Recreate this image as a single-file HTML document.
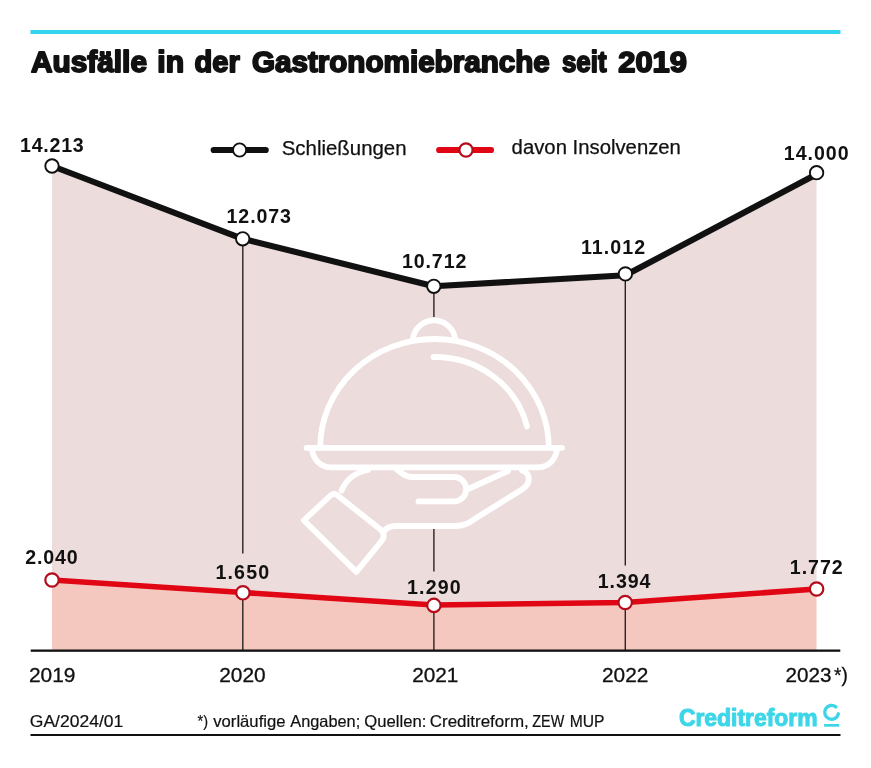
<!DOCTYPE html>
<html lang="de">
<head>
<meta charset="utf-8">
<title>Ausfälle in der Gastronomiebranche seit 2019</title>
<style>
  html, body { margin: 0; padding: 0; background: #ffffff; }
  body { width: 871px; height: 768px; overflow: hidden; }
  svg { display: block; }
  text { font-family: "Liberation Sans", sans-serif; fill: #111111; }
  .title { font-weight: bold; font-size: 29px; stroke: #111111; stroke-width: 1.8px; stroke-linejoin: round; }
  .val { font-weight: bold; font-size: 19.6px; }
  .year { font-size: 20px; stroke: #111111; stroke-width: 0.3px; }
  .leg { font-size: 20px; stroke: #111111; stroke-width: 0.25px; }
  .foot { font-size: 16.5px; stroke: #111111; stroke-width: 0.2px; }
  .logo { font-weight: bold; font-size: 23px; fill: #3dd6e8; stroke: #3dd6e8; stroke-width: 1px; stroke-linejoin: round; }
</style>
</head>
<body>
<svg width="871" height="768" viewBox="0 0 871 768">
  <rect x="0" y="0" width="871" height="768" fill="#ffffff"/>

  <!-- top rule -->
  <rect x="30.5" y="30" width="810" height="4" fill="#33d3ee"/>

  <!-- title -->
  <g class="title">
    <text id="t1" x="30.95" y="71.50" textLength="116.05" lengthAdjust="spacingAndGlyphs">Ausfälle</text>
    <text id="t2" x="157.31" y="71.50" textLength="26.74" lengthAdjust="spacingAndGlyphs">in</text>
    <text id="t3" x="194.60" y="71.50" textLength="45.25" lengthAdjust="spacingAndGlyphs">der</text>
    <text id="t4" x="251.90" y="71.50" textLength="297.95" lengthAdjust="spacingAndGlyphs">Gastronomiebranche</text>
    <text id="t5" x="562.00" y="71.50" textLength="44.50" lengthAdjust="spacingAndGlyphs">seit</text>
    <text id="t6" x="618.30" y="71.50" textLength="68.60" lengthAdjust="spacingAndGlyphs">2019</text>
  </g>

  <!-- areas -->
  <polygon points="52,166 242.7,238.8 433.8,286.3 625.4,275.3 816.5,174.3 816.5,589 625.2,602.5 433.9,605 242.9,592.5 52,580" fill="#ecdcdc"/>
  <polygon points="52,580 242.9,592.5 433.9,605 625.2,602.5 816.5,589 816.5,650 52,650" fill="#f5c8bf"/>

  <!-- vertical guide lines -->
  <g stroke="#2a2223" stroke-width="1.4">
    <line x1="242.8" y1="245" x2="242.8" y2="553.5"/>
    <line x1="242.8" y1="598" x2="242.8" y2="650"/>
    <line x1="433.9" y1="292" x2="433.9" y2="317"/>
    <line x1="433.9" y1="529" x2="433.9" y2="571.5"/>
    <line x1="433.9" y1="610" x2="433.9" y2="650"/>
    <line x1="625.3" y1="280" x2="625.3" y2="565.5"/>
    <line x1="625.3" y1="608" x2="625.3" y2="650"/>
  </g>

  <!-- cloche icon -->
  <g fill="none" stroke="#ffffff" stroke-width="5.8" stroke-linecap="round" stroke-linejoin="round">
    <!-- knob -->
    <path d="M412.9,338.8 A21.3,21.3 0 0 1 455.1,338.8"/>
    <!-- dome -->
    <path d="M320.2,447.8 A114.3,108.9 0 0 1 548.8,447.8"/>
    <!-- highlight -->
    <path d="M433.5,357 A95,89.8 0 0 1 527,426.5"/>
    <!-- tray -->
    <path d="M306.5,447.8 L562,447.8"/>
    <path d="M312,449 C313,459 320,467.4 332,467.4 L537,467.4 C549,467.4 556,459 557,449"/>
    <!-- hand: wrist -->
    <path d="M341.5,490.5 C346,480 355,472.5 368,470"/>
    <!-- thumb -->
    <path d="M397,469.5 C402,474 406,477 412,477 L454,477 A12.2,12.2 0 0 1 454,501.4 L418.5,501.4"/>
    <!-- fingers -->
    <path d="M468,489 L508,471"/>
    <path d="M522,470.5 C530,473 532,483 522,489.5 L478.5,516.5 C470,522 466,526 455,526 L396,526 C390,526 386,528 383.5,532"/>
    <!-- cuff -->
    <path d="M330.5,495.5 Q333.5,492.5 337,495 L380.5,529.5 Q386,534.5 382,540.5 L356.3,571.9 L303.8,520.3 Z"/>
  </g>

  <!-- axis -->
  <rect x="30.7" y="649.5" width="809.6" height="2.3" fill="#111111"/>

  <!-- black series -->
  <polyline points="52,166 242.7,238.8 433.8,286.3 625.4,275.3 816.5,174.3" fill="none" stroke="#111111" stroke-width="6.1" stroke-linejoin="round"/>
  <g fill="#ffffff" stroke="#111111" stroke-width="1.9">
    <circle cx="52" cy="166" r="6.7"/>
    <circle cx="242.7" cy="238.8" r="6.7"/>
    <circle cx="433.8" cy="286.3" r="6.7"/>
    <circle cx="625.4" cy="273.9" r="6.7"/>
    <circle cx="816.6" cy="172.7" r="6.7"/>
  </g>

  <!-- red series -->
  <polyline points="52,580 242.9,592.5 433.9,605 625.2,602.5 816.5,589" fill="none" stroke="#e10614" stroke-width="5.6" stroke-linejoin="round"/>
  <g fill="#ffffff" stroke="#b50c1c" stroke-width="2.2">
    <circle cx="52" cy="580" r="6.7"/>
    <circle cx="242.9" cy="592.8" r="6.7"/>
    <circle cx="433.9" cy="605.4" r="6.7"/>
    <circle cx="625.2" cy="602.5" r="6.7"/>
    <circle cx="816.6" cy="589" r="6.7"/>
  </g>

  <!-- legend -->
  <line x1="213.7" y1="150" x2="265.7" y2="150" stroke="#111111" stroke-width="6.2" stroke-linecap="round"/>
  <circle cx="239.6" cy="150" r="6.6" fill="#ffffff" stroke="#111111" stroke-width="1.9"/>
  <text id="t7" class="leg" x="281.73" y="155.00" textLength="124.83" lengthAdjust="spacingAndGlyphs">Schließungen</text>
  <line x1="439.2" y1="150" x2="491" y2="150" stroke="#e10614" stroke-width="6.2" stroke-linecap="round"/>
  <circle cx="466" cy="150" r="6.6" fill="#ffffff" stroke="#b50c1c" stroke-width="2.2"/>
  <text id="t8" class="leg" x="511.64" y="154.25" textLength="169.28" lengthAdjust="spacingAndGlyphs">davon Insolvenzen</text>

  <!-- value labels -->
  <g class="val">
    <text id="t9" x="20.08" y="152.35" textLength="63.61" lengthAdjust="spacing">14.213</text>
    <text id="t10" x="226.60" y="222.95" textLength="64.32" lengthAdjust="spacing">12.073</text>
    <text id="t11" x="401.96" y="267.65" textLength="64.37" lengthAdjust="spacing">10.712</text>
    <text id="t12" x="580.93" y="253.50" textLength="64.13" lengthAdjust="spacing">11.012</text>
    <text id="t13" x="783.86" y="159.90" textLength="64.77" lengthAdjust="spacing">14.000</text>
    <text id="t14" x="25.33" y="564.05" textLength="52.34" lengthAdjust="spacing">2.040</text>
    <text id="t15" x="215.50" y="578.75" textLength="53.60" lengthAdjust="spacing">1.650</text>
    <text id="t16" x="407.10" y="593.65" textLength="53.50" lengthAdjust="spacing">1.290</text>
    <text id="t17" x="597.66" y="588.25" textLength="52.84" lengthAdjust="spacing">1.394</text>
    <text id="t18" x="789.76" y="573.90" textLength="52.98" lengthAdjust="spacing">1.772</text>
  </g>

  <!-- year labels -->
  <g class="year">
    <text id="t19" x="29.01" y="682.20" textLength="46.48" lengthAdjust="spacingAndGlyphs">2019</text>
    <text id="t20" x="219.26" y="682.20" textLength="46.47" lengthAdjust="spacingAndGlyphs">2020</text>
    <text id="t21" x="412.16" y="682.20" textLength="46.29" lengthAdjust="spacingAndGlyphs">2021</text>
    <text id="t22" x="602.00" y="682.20" textLength="46.31" lengthAdjust="spacingAndGlyphs">2022</text>
    <text id="t23" x="785.49" y="682.20" textLength="45.95" lengthAdjust="spacingAndGlyphs">2023</text>
    <text id="t27" x="834.00" y="682.45" textLength="13.73" lengthAdjust="spacingAndGlyphs">*)</text>
  </g>

  <!-- footer -->
  <g class="foot">
    <text id="t24" x="29.84" y="727.20" textLength="93.43" lengthAdjust="spacingAndGlyphs">GA/2024/01</text>
    <text id="t25" x="197.50" y="727.20" textLength="10.52" lengthAdjust="spacingAndGlyphs">*)</text>
    <text id="t28" x="213.25" y="727.20" textLength="72.25" lengthAdjust="spacingAndGlyphs">vorläufige</text>
    <text id="t29" x="290.25" y="727.20" textLength="70.00" lengthAdjust="spacingAndGlyphs">Angaben;</text>
    <text id="t30" x="364.24" y="727.20" textLength="62.07" lengthAdjust="spacingAndGlyphs">Quellen:</text>
    <text id="t31" x="429.74" y="727.20" textLength="99.01" lengthAdjust="spacingAndGlyphs">Creditreform,</text>
    <text id="t32" x="532.26" y="727.20" textLength="31.99" lengthAdjust="spacingAndGlyphs">ZEW</text>
    <text id="t33" x="569.71" y="727.20" textLength="34.84" lengthAdjust="spacingAndGlyphs">MUP</text>
  </g>
  <text id="t26" class="logo" x="678.89" y="725.95" textLength="138.66" lengthAdjust="spacingAndGlyphs">Creditreform</text>
  <!-- logo mark -->
  <path d="M835.85,706.86 A6.9,6.9 0 1 0 838.32,713.85" fill="none" stroke="#3dd6e8" stroke-width="3.4" stroke-linecap="round"/>
  <rect x="824.1" y="724" width="15.2" height="2.7" fill="#3dd6e8"/>
  <rect x="30.5" y="734" width="810" height="2" fill="#111111"/>
</svg>
</body>
</html>
